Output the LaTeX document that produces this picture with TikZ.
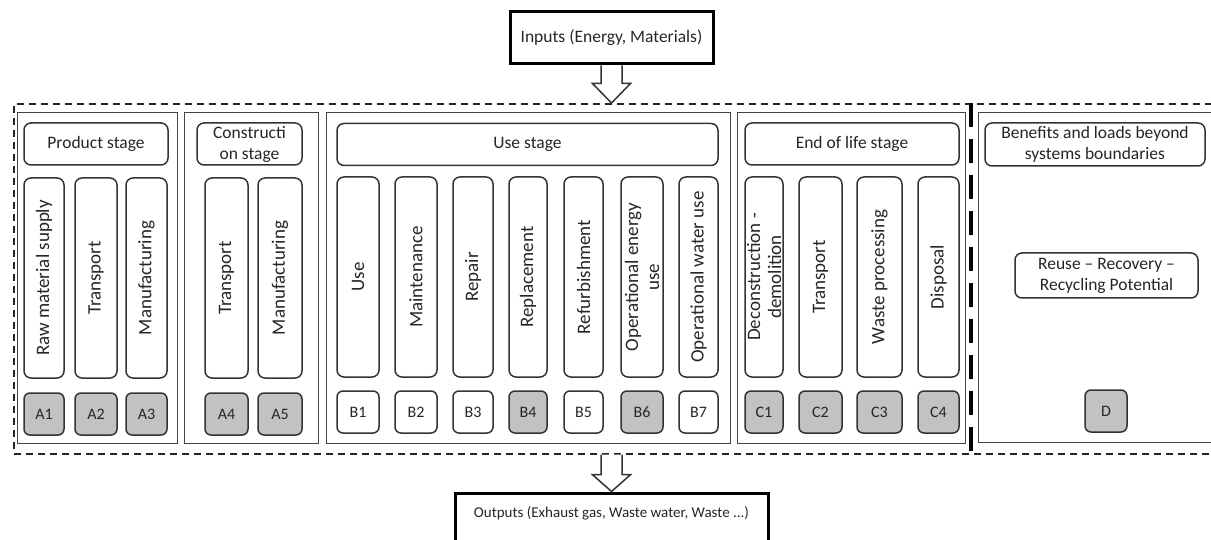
\documentclass[tikz,border=0pt]{standalone}
\usepackage{fontspec}
\setmainfont{Carlito}
\usetikzlibrary{calc}
\definecolor{ln}{HTML}{333333}
\definecolor{cont}{HTML}{444444}
\definecolor{gfill}{HTML}{C2C2C2}
\definecolor{tx}{HTML}{262626}
\tikzset{
  container/.style={draw=cont, line width=1.4pt, anchor=north west, inner sep=0pt},
  hdr/.style={draw=ln, line width=1.5pt, rounded corners=7pt, fill=white, inner sep=0pt,
    text=tx, align=center, minimum height=42, font=\fontsize{17.5}{21}\selectfont},
  col/.style={draw=ln, line width=1.5pt, rounded corners=7pt, rotate=90, inner sep=0pt,
    minimum width=200, minimum height=40, text=tx, align=center, font=\fontsize{19}{21}\selectfont},
  code/.style={draw=ln, line width=1.5pt, rounded corners=6pt, inner sep=0pt,
    minimum width=40, minimum height=42, text=tx, font=\fontsize{16}{18}\selectfont},
  gcode/.style={code, fill=gfill},
  iobox/.style={draw=black, line width=3pt, inner sep=0pt, text=tx},
  blockarrow/.style={draw=ln, line width=1.5pt, fill=white, line join=miter},
  outerdash/.style={draw=black!85, line width=1.7pt, dash pattern=on 7pt off 5pt, anchor=north west, inner sep=0pt},
  sepdash/.style={draw=black, line width=3.2pt, dash pattern=on 24pt off 12pt}
}
\begin{document}
\begin{tikzpicture}[x=1pt,y=-1pt]
\useasboundingbox (0,0) rectangle (1211,540);
\clip (0,0) rectangle (1211,540);

% outer dashed boundary
\node[outerdash, minimum width=1204, minimum height=350] (outer) at (13,103) {};

% containers
\node[container, minimum width=160, minimum height=331] (prodbox) at (17,112) {};
\node[container, minimum width=134, minimum height=331] (consbox) at (184,112) {};
\node[container, minimum width=404, minimum height=331] (usebox) at (326,112) {};
\node[container, minimum width=228, minimum height=331] (eolbox) at (737,112) {};
\node[container, minimum width=250, minimum height=330] (benbox) at (978,112) {};

% separator
\coordinate (septop) at (971,103);
\coordinate (sepbot) at (971,455);
\draw[sepdash] (septop) -- (sepbot);

% headers
\node[hdr, minimum width=144] (hprod) at (96,144) {Product stage};
\node[hdr, minimum width=105] (hcons) at (249.5,144) {Constructi\\on stage};
\node[hdr, minimum width=381] (huse) at (527.5,144.5) {Use stage};
\node[hdr, minimum width=214] (heol) at (852,144) {End of life stage};
\node[hdr, minimum width=220, minimum height=43] (hben) at (1095,144.5) {Benefits and loads beyond\\systems boundaries};

% columns
\node[col] (ca1) at (44,278) {Raw material supply};
\node[col, minimum height=42] (ca2) at (96,278) {Transport};
\node[col, minimum height=41] (ca3) at (146.5,278) {Manufacturing};
\node[col, minimum height=43] (ca4) at (226.5,278) {Transport};
\node[col, minimum height=44] (ca5) at (280,278) {Manufacturing};

\node[col, minimum height=42] (cb1) at (358,277) {Use};
\node[col, minimum height=42] (cb2) at (416,277) {Maintenance};
\node[col] (cb3) at (473,277) {Repair};
\node[col, minimum height=38] (cb4) at (528,277) {Replacement};
\node[col, minimum height=39] (cb5) at (583.5,277) {Refurbishment};
\node[col, minimum height=42] (cb6) at (642,277) {Operational energy\\use};
\node[col, minimum height=39] (cb7) at (698.5,277) {Operational water use};

\node[col, minimum height=38] (cc1) at (764,277) {Deconstruction -\\demolition};
\node[col, minimum height=43] (cc2) at (820.5,277) {Transport};
\node[col, minimum height=45] (cc3) at (879.5,277) {Waste processing};
\node[col, minimum height=41] (cc4) at (938.5,277) {Disposal};

% codes
\node[gcode] (a1) at (44,414) {A1};
\node[gcode, minimum width=42] (a2) at (96,414) {A2};
\node[gcode, minimum width=41] (a3) at (146.5,414) {A3};
\node[gcode, minimum width=43] (a4) at (226.5,414) {A4};
\node[gcode, minimum width=44] (a5) at (280,414) {A5};

\node[code, minimum width=42] (b1) at (358,412) {B1};
\node[code, minimum width=42] (b2) at (416,412) {B2};
\node[code] (b3) at (473,412) {B3};
\node[gcode, minimum width=38] (b4) at (528,412) {B4};
\node[code, minimum width=39] (b5) at (583.5,412) {B5};
\node[gcode, minimum width=42] (b6) at (642,412) {B6};
\node[code, minimum width=39] (b7) at (698.5,412) {B7};

\node[gcode, minimum width=38] (c1) at (764,412) {C1};
\node[gcode, minimum width=43] (c2) at (820.5,412) {C2};
\node[gcode, minimum width=45] (c3) at (879.5,412) {C3};
\node[gcode, minimum width=41] (c4) at (938.5,412) {C4};

\node[gcode, minimum width=42] (d) at (1106,411) {D};

% reuse box
\node[hdr, minimum width=183, minimum height=45] (reuse) at (1106.5,275.5) {Reuse -- Recovery --\\Recycling Potential};

% inputs / outputs
\node[iobox, minimum width=203, minimum height=52, font=\fontsize{17.5}{21}\selectfont] (inbox) at (611.5,38) {Inputs (Energy, Materials)};
\node[iobox, minimum width=313, minimum height=70] (outbox) at (611.5,528) {};
\node[text=tx, inner sep=0pt, font=\fontsize{15}{18}\selectfont] (outtxt) at (611.5,513) {Outputs (Exhaust gas, Waste water, Waste ...)};

% block arrows
\draw[blockarrow] ($(inbox.south)+(-10.5,0)$) -- ++(0,18) -- ++(-8.5,0)
  -- (inbox.south |- outer.north)
  -- ($(inbox.south)+(19,18)$) -- ++(-8.5,0) -- ($(inbox.south)+(10.5,0)$);
\draw[blockarrow] ($(outbox.north |- outer.south)+(-10.5,0)$) -- ++(0,20) -- ++(-8.5,0)
  -- (outbox.north)
  -- ($(outbox.north |- outer.south)+(19,20)$) -- ++(-8.5,0) -- ($(outbox.north |- outer.south)+(10.5,0)$);
\end{tikzpicture}
\end{document}
